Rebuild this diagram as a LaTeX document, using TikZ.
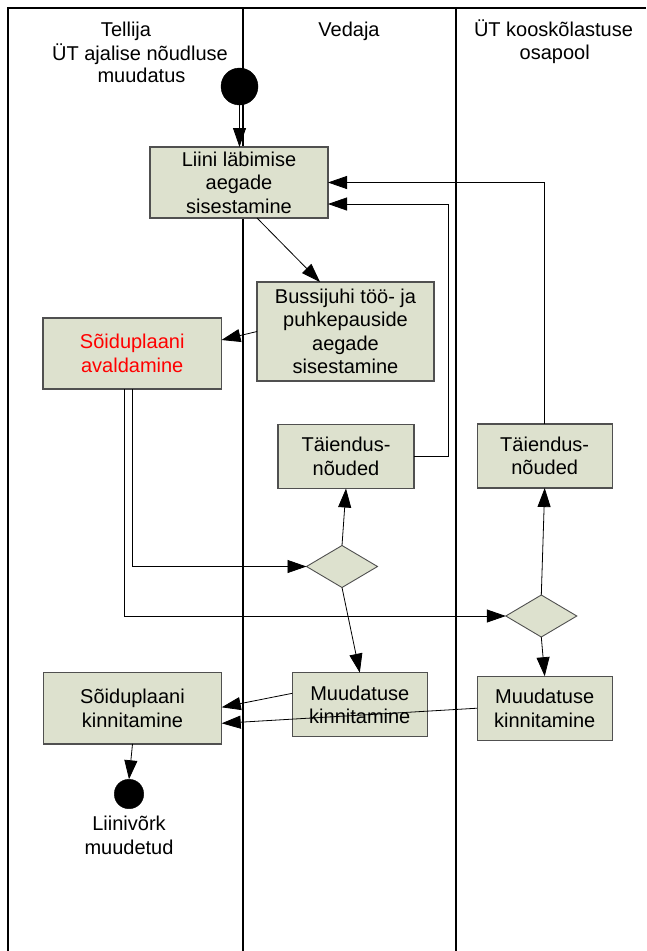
\documentclass[tikz,border=0pt]{standalone}
\usepackage{fontspec}
\setmainfont{Liberation Sans}
\usetikzlibrary{shapes.geometric,arrows.meta}
\definecolor{actfill}{RGB}{221,225,206}
\definecolor{actline}{RGB}{80,80,80}
\definecolor{hotred}{RGB}{255,0,0}
\tikzset{
  txt/.style={font=\fontsize{20}{23.5}\selectfont},
  activity/.style={txt, draw=actline, fill=actfill, line width=1.2pt, align=center,
    inner sep=0pt, outer sep=0pt, rectangle},
  decision/.style={draw=actline, fill=actfill, line width=0.9pt, diamond, aspect=1.7,
    minimum width=71pt, minimum height=42pt, inner sep=0pt, outer sep=0pt},
  dot/.style={circle, fill=black, draw=black, inner sep=0pt, outer sep=0pt},
  lane/.style={draw=black, line width=1.1pt},
  flow/.style={draw=black, line width=0.8pt, -{Triangle[length=19pt,width=13pt]}},
  label/.style={txt, anchor=base, inner sep=0pt},
}
\begin{document}
\begin{tikzpicture}[x=1pt,y=-1pt]
\useasboundingbox (0,0) rectangle (646,951);
\fill[white] (0,0) rectangle (646,951);

% swimlane frame
\draw[lane] (8,951) -- (8,8) -- (646,8);
\draw[lane] (243,8) -- (243,951);
\draw[lane] (456,8) -- (456,951);

% lane headings
\node[label] (h1a) at (126,36.7) {Tellija};
\node[label] (h1b) at (140,60) {ÜT ajalise nõudluse};
\node[label] (h1c) at (141.5,82.5) {muudatus};
\node[label] (h2) at (349,36.7) {Vedaja};
\node[label] (h3a) at (553.5,36.2) {ÜT kooskõlastuse};
\node[label] (h3b) at (554.7,59.7) {osapool};

% start and end
\node[dot, minimum size=37pt] (start) at (239.5,86.5) {};
\node[dot, minimum size=29.5pt] (stop) at (129,794) {};
\node[label] (stopa) at (129,830) {Liinivõrk};
\node[label] (stopb) at (129,854) {muudetud};

% activities
\node[activity, minimum width=178pt, minimum height=71pt] (b1) at (239,182.5)
  {Liini läbimise\\aegade\\sisestamine};
\node[activity, minimum width=177pt, minimum height=99pt] (b2) at (345.5,331.5)
  {Bussijuhi töö- ja\\puhkepauside\\aegade\\sisestamine};
\node[activity, minimum width=178.5pt, minimum height=71pt, text=hotred] (b3) at (132.25,353.5)
  {Sõiduplaani\\avaldamine};
\node[activity, minimum width=136pt, minimum height=64pt] (t1) at (346,456.5)
  {Täiendus-\\nõuded};
\node[activity, minimum width=135pt, minimum height=64pt] (t2) at (544.7,456)
  {Täiendus-\\nõuded};
\node[activity, minimum width=135pt, minimum height=64pt] (m1) at (359.8,704.7)
  {Muudatuse\\kinnitamine};
\node[activity, minimum width=135pt, minimum height=64pt] (m2) at (544.7,708.2)
  {Muudatuse\\kinnitamine};
\node[activity, minimum width=178.4pt, minimum height=71.3pt] (k) at (132.5,708.3)
  {Sõiduplaani\\kinnitamine};

% decisions
\node[decision] (d1) at (342,566.5) {};
\node[decision] (d2) at (541.3,616) {};

% flows
\draw[flow] (start.south) -- (start.south |- b1.north);
\draw[flow] ([xshift=18pt]b1.south) -- ([xshift=-25.5pt]b2.north);
\draw[flow] (b2.west) -- ([yshift=13.5pt]b3.east);
\coordinate (r1) at (448.4,204);
\draw[flow] (t1.east) -| (r1) -- (r1 -| b1.east);
\draw[flow] (t2.north) |- (b1.east);
\draw[flow] (b3.south) |- (d1.west);
\draw[flow] ([xshift=-8pt]b3.south) |- (d2.west);
\draw[flow] (d1.north) -- (t1.south);
\draw[flow] (d1.south) -- (m1.north);
\draw[flow] (d2.north) -- (t2.south);
\draw[flow] (d2.south) -- (m2.north);
\draw[flow] ([yshift=11.4pt]m1.west) -- ([yshift=1pt]k.east);
\draw[flow] (m2.west) -- ([yshift=-15pt]k.east);
\draw[flow] (k.south) -- (stop.north);
\end{tikzpicture}
\end{document}
